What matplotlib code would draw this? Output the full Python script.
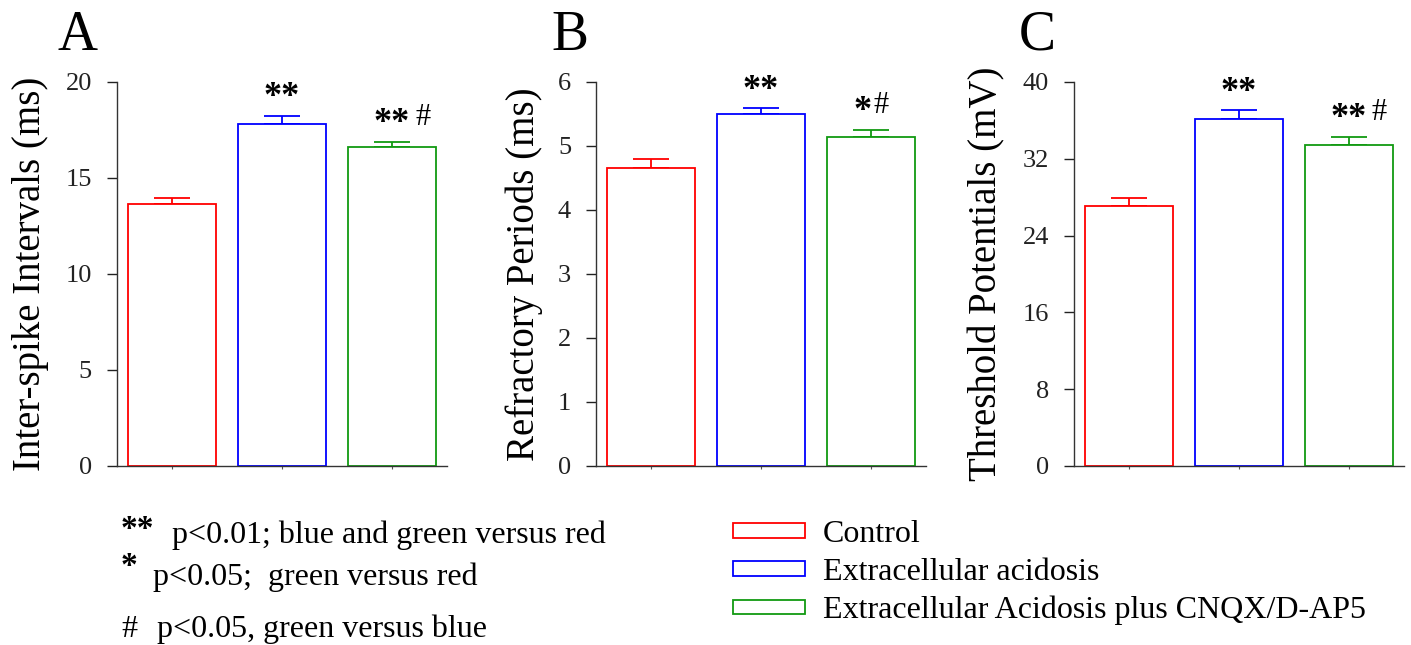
import numpy as np
import matplotlib
matplotlib.use("Agg")
import matplotlib.pyplot as plt

plt.rcParams['font.family'] = ['Liberation Serif', 'DejaVu Serif']

# --- data ---
groups = ["Control", "Extracellular acidosis", "Extracellular Acidosis plus CNQX/D-AP5"]
colors = ["#ff0000", "#0000ff", "#119a11"]

isi_mean = [13.65, 17.8, 16.6]
isi_err = [0.31, 0.42, 0.28]

refr_mean = [4.66, 5.50, 5.14]
refr_err = [0.14, 0.09, 0.11]

thr_mean = [27.1, 36.1, 33.4]
thr_err = [0.83, 0.94, 0.87]

panels = [
    ("A", "Inter-spike Intervals (ms)", isi_mean, isi_err, [0, 5, 10, 15, 20], 20, ["", "**", "**"], ["", "", "#"]),
    ("B", "Refractory Periods (ms)", refr_mean, refr_err, [0, 1, 2, 3, 4, 5, 6], 6, ["", "**", "*"], ["", "", "#"]),
    ("C", "Threshold Potentials (mV)", thr_mean, thr_err, [0, 8, 16, 24, 32, 40], 40, ["", "**", "**"], ["", "", "#"]),
]

notes_sym = ["**", "*", "#"]
notes_txt = ["p<0.01; blue and green versus red", "p<0.05;  green versus red", "p<0.05, green versus blue"]

# --- layout (pixels of a 1411x645 figure) ---
W, H = 1411, 645
ax_left_px = [117, 596, 1074]
ax_w_px = 330
ax_top_px, ax_bot_px = 82, 466
letter_x_px = [58, 551, 1019]
ylabel_x_px = [31, 524, 987]
star_dx = [[0, 0, 0], [0, 0, -6], [0, 0, 0]]
hash_gap = [4, 1, 3]

fig = plt.figure(figsize=(W / 100, H / 100), dpi=100)
x = np.arange(len(groups))

for i, (letter, ylab, means, errs, yticks, ymax, stars, hashes) in enumerate(panels):
    ax = fig.add_axes([ax_left_px[i] / W, (H - ax_bot_px) / H,
                       ax_w_px / W, (ax_bot_px - ax_top_px) / H])
    bars = ax.bar(x, means, width=0.8, facecolor="white", edgecolor=colors,
                  linewidth=1.3, zorder=2)
    for j in range(len(groups)):
        ax.errorbar(x[j], means[j], yerr=[[0], [errs[j]]], fmt="none",
                    ecolor=colors[j], elinewidth=1.3, capsize=13, capthick=1.3, zorder=1)
        if stars[j]:
            s = ax.annotate(stars[j], xy=(x[j], means[j] + errs[j]),
                            xytext=(star_dx[i][j], 7), textcoords="offset points",
                            ha="center", va="baseline", fontsize=26, fontweight="bold")
            if hashes[j]:
                ax.annotate(hashes[j], xy=(1, means[j] + errs[j]), xycoords=(s, "data"),
                            xytext=(hash_gap[i], 12), textcoords="offset points",
                            ha="left", va="baseline", fontsize=22)
    for b, g in zip(bars, groups):
        b.set_label(g)
    ax.set_xlim(-0.5, 2.5)
    ax.set_ylim(0, ymax)
    ax.set_yticks(yticks)
    ax.set_xticks(x)
    ax.set_xticklabels([])
    ax.tick_params(axis="y", direction="out", length=7, width=1.0, pad=11,
                   labelsize=19, colors="#222222")
    ax.tick_params(axis="x", direction="out", length=2, width=0.8, colors="#555555")
    for sp in ["top", "right"]:
        ax.spines[sp].set_visible(False)
    for sp in ["left", "bottom"]:
        ax.spines[sp].set_color("#333333")
        ax.spines[sp].set_linewidth(1.0)
    ax.set_ylabel(ylab, fontsize=28, va="center")
    ax.yaxis.set_label_coords((ylabel_x_px[i] - ax_left_px[i]) / ax_w_px, 0.5)
    fig.text(letter_x_px[i] / W, 1 - 50 / H, letter, fontsize=40, va="baseline", ha="left")
    if i == 0:
        handles = list(bars)

# --- significance notes ---
note_sym_x = [121, 121, 121]
note_sym_base = [538, 575, 637]
note_sym_size = [24, 24, 23]
note_sym_weight = ["bold", "bold", "normal"]
note_txt_x = [172, 153, 157]
note_txt_base = [543, 585, 637]
for k in range(3):
    fig.text(note_sym_x[k] / W, 1 - note_sym_base[k] / H, notes_sym[k],
             fontsize=note_sym_size[k], fontweight=note_sym_weight[k],
             va="baseline", ha="left")
    fig.text(note_txt_x[k] / W, 1 - note_txt_base[k] / H, notes_txt[k],
             fontsize=23, va="baseline", ha="left")

# --- legend ---
fig.legend(handles=handles, labels=groups, loc="upper left",
           bbox_to_anchor=(733 / W, 1 - 520 / H), frameon=False,
           fontsize=23, borderpad=0, borderaxespad=0, handlelength=2.25,
           handleheight=0.31, handletextpad=0.56, labelspacing=0.28)

fig.savefig("out.png", dpi=100)
